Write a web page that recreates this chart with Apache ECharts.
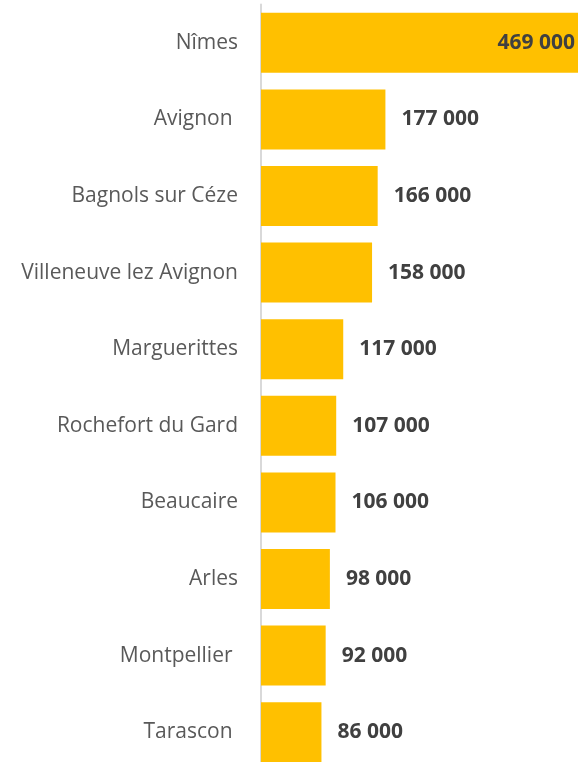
<!DOCTYPE html>
<html>
<head>
<meta charset="utf-8">
<script src="https://cdn.jsdelivr.net/npm/echarts@6/dist/echarts.min.js"></script>
<style>
  html, body { margin: 0; padding: 0; background: #fff; }
  #chart { width: 578px; height: 762px; }
</style>
</head>
<body>
<div id="chart"></div>
<script>
// villes, du haut vers le bas
var villes = ['Nîmes', 'Avignon ', 'Bagnols sur Céze', 'Villeneuve lez Avignon', 'Marguerittes',
  'Rochefort du Gard', 'Beaucaire', 'Arles', 'Montpellier ', 'Tarascon '];
var valeurs = [469000, 177000, 166000, 158000, 117000, 107000, 106000, 98000, 92000, 86000];

function fmt(v) {
  return String(v).replace(/\B(?=(\d{3})+(?!\d))/g, ' ');
}

var myChart = echarts.init(document.getElementById('chart'));

var barData = valeurs.map(function (v, i) {
  if (i === 0) {
    // la plus grande barre déborde, étiquette à l'intérieur
    return { value: v, label: { position: 'insideRight', distance: 3 } };
  }
  return v;
});

var option = {
  animation: false,
  grid: {
    left: 261, right: 0, top: 4.5, height: 766,
    containLabel: false,
    outerBoundsMode: 'none'
  },
  xAxis: {
    type: 'value',
    min: 0,
    max: 451000,
    show: false
  },
  yAxis: {
    type: 'category',
    inverse: true,
    data: villes,
    axisLine: { show: true, lineStyle: { color: '#d9d9d9', width: 2 } },
    axisTick: { show: false },
    axisLabel: {
      margin: 23,
      color: '#595959',
      fontSize: 21,
      fontFamily: 'Open Sans',
      padding: [4, 0, 0, 0]
    }
  },
  series: [
    {
      type: 'bar',
      data: barData,
      barCategoryGap: '21.7%',
      clip: true,
      itemStyle: { color: '#FFC000' },
      label: {
        show: true,
        position: 'right',
        distance: 16,
        color: '#404040',
        fontWeight: 'bold',
        fontSize: 21,
        fontFamily: 'Open Sans',
        padding: [5, 0, 0, 0],
        formatter: function (p) { return fmt(p.value); }
      }
    }
  ]
};

myChart.setOption(option);
</script>
</body>
</html>
